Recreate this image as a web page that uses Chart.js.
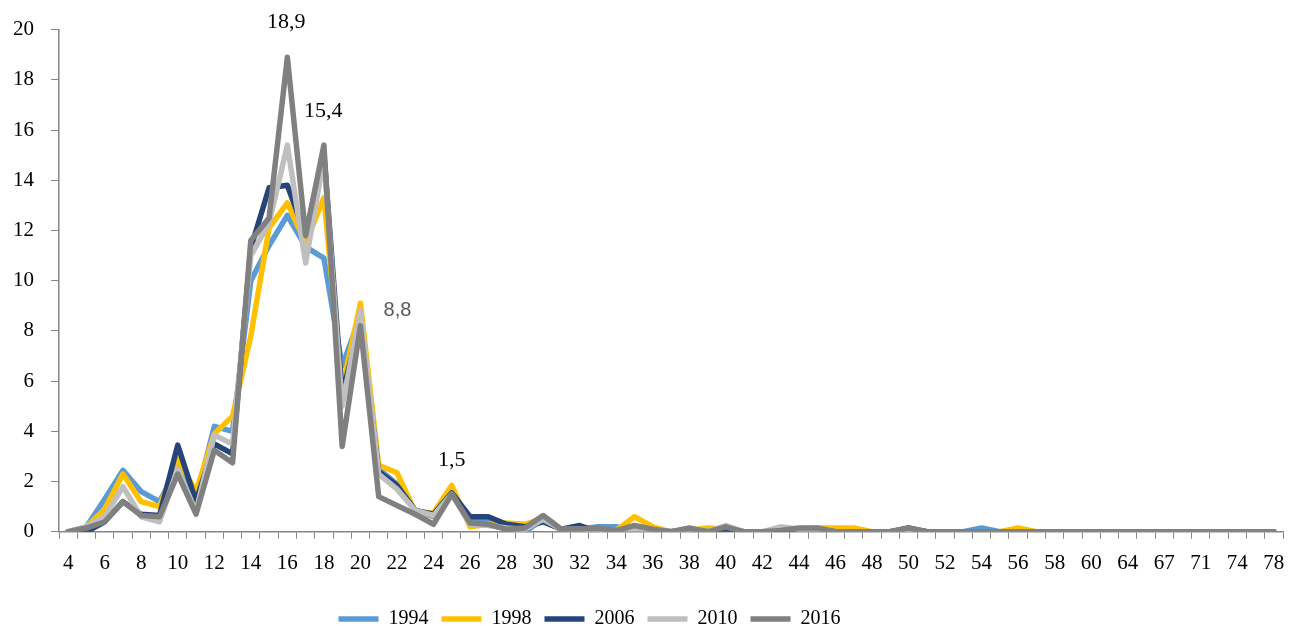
<!DOCTYPE html>
<html>
<head>
<meta charset="utf-8">
<script src="https://cdn.jsdelivr.net/npm/chart.js@4.4.1/dist/chart.umd.min.js"></script>
<style>
  html, body { margin: 0; padding: 0; background: #fff; }
  #wrap { width: 1302px; height: 626px; position: relative; }
</style>
</head>
<body>
<div id="wrap"><canvas id="chart"></canvas></div>
<script>
'use strict'

// categories (only every other one is labelled on the axis)
const categories = [
    4, 5, 6, 7, 8, 9, 10, 11, 12, 13, 14, 15, 16, 17, 18, 19, 20, 21, 22, 23,
    24, 25, 26, 27, 28, 29, 30, 31, 32, 33, 34, 35, 36, 37, 38, 39, 40, 41, 42, 43,
    44, 45, 46, 47, 48, 49, 50, 51, 52, 53, 54, 55, 56, 57, 58, 59, 60,
    62, 64, 65, 67, 69, 71, 72, 74, 76, 78
]

const years = ['1994', '1998', '2006', '2010', '2016']

const v1994 = [
    0, 0.2, 1.3, 2.45, 1.6, 1.2, 2.6, 1.3, 4.2, 4.0, 10.0, 11.4, 12.6, 11.35, 10.9, 6.6, 8.6, 2.5, 1.9, 0.85,
    0.6, 1.5, 0.5, 0.45, 0.2, 0, 0.5, 0.1, 0.1, 0.2, 0.2, 0.05, 0.1, 0, 0.1, 0, 0.2, 0, 0, 0.1,
    0.1, 0.1, 0, 0, 0, 0, 0.1, 0, 0, 0, 0.15, 0, 0, 0, 0, 0, 0,
    0, 0, 0, 0, 0, 0, 0, 0, 0, 0
]
const v1998 = [
    0, 0.2, 0.9, 2.3, 1.2, 1.0, 2.9, 1.6, 3.9, 4.6, 7.8, 12.1, 13.1, 11.5, 13.3, 5.7, 9.1, 2.65, 2.35, 0.8,
    0.75, 1.85, 0.2, 0.3, 0.35, 0.3, 0.55, 0.1, 0.05, 0.1, 0.05, 0.6, 0.2, 0, 0.05, 0.15, 0.1, 0, 0, 0,
    0.1, 0.15, 0.15, 0.15, 0, 0, 0, 0, 0, 0, 0, 0, 0.15, 0, 0, 0, 0,
    0, 0, 0, 0, 0, 0, 0, 0, 0, 0
]
const v2006 = [
    0, 0, 0.4, 1.2, 0.7, 0.65, 3.45, 1.2, 3.5, 3.1, 11.3, 13.7, 13.8, 11.8, 15.1, 5.45, 8.4, 2.4, 1.85, 0.85,
    0.7, 1.55, 0.6, 0.6, 0.3, 0.2, 0.4, 0.1, 0.25, 0, 0.05, 0, 0.05, 0, 0.1, 0, 0.1, 0, 0, 0,
    0.1, 0.1, 0, 0, 0, 0, 0.15, 0, 0, 0, 0, 0, 0, 0, 0, 0, 0,
    0, 0, 0, 0, 0, 0, 0, 0, 0, 0
]
const v2010 = [
    0, 0.2, 0.6, 1.8, 0.6, 0.4, 2.5, 0.8, 3.85, 3.5, 11.0, 12.3, 15.4, 10.7, 14.9, 5.0, 8.8, 2.3, 1.7, 0.85,
    0.65, 1.5, 0.3, 0.25, 0.15, 0.1, 0.5, 0.1, 0.1, 0.1, 0.05, 0.1, 0.05, 0, 0.1, 0, 0.25, 0, 0, 0.2,
    0.1, 0.1, 0, 0, 0, 0, 0.05, 0, 0, 0, 0, 0, 0, 0, 0, 0, 0,
    0, 0, 0, 0, 0, 0, 0, 0, 0, 0
]
const v2016 = [
    0, 0.15, 0.4, 1.2, 0.65, 0.6, 2.3, 0.7, 3.25, 2.75, 11.6, 12.5, 18.9, 11.8, 15.4, 3.4, 8.2, 1.4, 1.05, 0.7,
    0.3, 1.5, 0.35, 0.3, 0.1, 0.15, 0.65, 0.1, 0.1, 0.15, 0.05, 0.25, 0.1, 0, 0.15, 0, 0.2, 0, 0, 0.05,
    0.15, 0.15, 0, 0, 0, 0, 0.15, 0, 0, 0, 0, 0, 0, 0, 0, 0, 0,
    0, 0, 0, 0, 0, 0, 0, 0, 0, 0
]

const yTicks = [0, 2, 4, 6, 8, 10, 12, 14, 16, 18, 20]

const seriesValues = [v1994, v1998, v2006, v2010, v2016]
const colors = ['#5B9BD5', '#FFC000', '#264478', '#BFBFBF', '#808080']

// which points carry a value label
const pointLabels = [
    { year: '2016', cat: 16, dx: -1, dy: -35, font: '22px "Liberation Serif"', color: '#000' },
    { year: '2010', cat: 16, dx: 36, dy: -34, font: '22px "Liberation Serif"', color: '#000' },
    { year: '2010', cat: 20, dx: 37, dy: 0, font: '20px "Liberation Sans"', color: '#595959' },
    { year: '2016', cat: 25, dx: 0, dy: -34, font: '22px "Liberation Serif"', color: '#000' }
]

const pointLabelPlugin = {
    id: 'pointLabels',
    afterDatasetsDraw(chart) {
        const ctx = chart.ctx
        ctx.save()
        ctx.textAlign = 'center'
        ctx.textBaseline = 'middle'
        pointLabels.forEach(l => {
            const di = years.indexOf(l.year)
            const ci = categories.indexOf(l.cat)
            const pt = chart.getDatasetMeta(di).data[ci]
            const val = chart.data.datasets[di].data[ci]
            ctx.font = l.font
            ctx.fillStyle = l.color
            ctx.fillText(val.toFixed(1).replace('.', ','), pt.x + l.dx, pt.y + l.dy)
        })
        ctx.restore()
    }
}

// nudge the legend to where the original sits
const legendShift = {
    id: 'legendShift',
    afterLayout(chart) {
        const lg = chart.legend
        lg.top += 8
        lg.bottom += 8
        lg.left -= 50
        lg.right -= 50
    }
}

const serif = '"Liberation Serif", "Times New Roman", serif'

new Chart(document.getElementById('chart'), {
    type: 'line',
    data: {
        labels: categories.map(String),
        datasets: years.map((y, i) => ({
            label: y,
            data: seriesValues[i],
            borderColor: colors[i],
            backgroundColor: colors[i],
            borderWidth: 5.5,
            borderCapStyle: 'round',
            borderJoinStyle: 'round',
            pointRadius: 0,
            pointHoverRadius: 0,
            tension: 0,
            fill: false,
            // later years are painted on top
            order: years.length - i
        }))
    },
    options: {
        responsive: true,
        maintainAspectRatio: false,
        animation: false,
        layout: {
            padding: { left: -4, right: 19, top: 28, bottom: -5 }
        },
        plugins: {
            tooltip: { enabled: false },
            legend: {
                position: 'bottom',
                labels: {
                    usePointStyle: true,
                    pointStyle: 'line',
                    pointStyleWidth: 40,
                    padding: 13,
                    color: '#000',
                    font: { family: serif, size: 20 },
                    sort: (a, b) => a.datasetIndex - b.datasetIndex
                }
            }
        },
        scales: {
            x: {
                offset: true,
                grid: {
                    offset: true,
                    drawOnChartArea: false,
                    drawTicks: true,
                    tickLength: 7,
                    color: '#868686'
                },
                border: { color: '#868686', width: 1.5 },
                ticks: {
                    autoSkip: false,
                    maxRotation: 0,
                    padding: 12,
                    color: '#000',
                    font: { family: serif, size: 21 },
                    callback(value, index) {
                        return index % 2 === 0 ? this.getLabelForValue(value) : ''
                    }
                }
            },
            y: {
                min: yTicks[0],
                max: yTicks[yTicks.length - 1],
                afterBuildTicks(scale) {
                    scale.ticks = yTicks.map(v => ({ value: v }))
                },
                grid: {
                    drawOnChartArea: false,
                    drawTicks: true,
                    tickLength: 8,
                    color: '#868686'
                },
                border: { color: '#868686', width: 1.5 },
                ticks: {
                    padding: 17,
                    color: '#000',
                    font: { family: serif, size: 21 }
                }
            }
        }
    },
    plugins: [pointLabelPlugin, legendShift]
})
</script>
</body>
</html>
